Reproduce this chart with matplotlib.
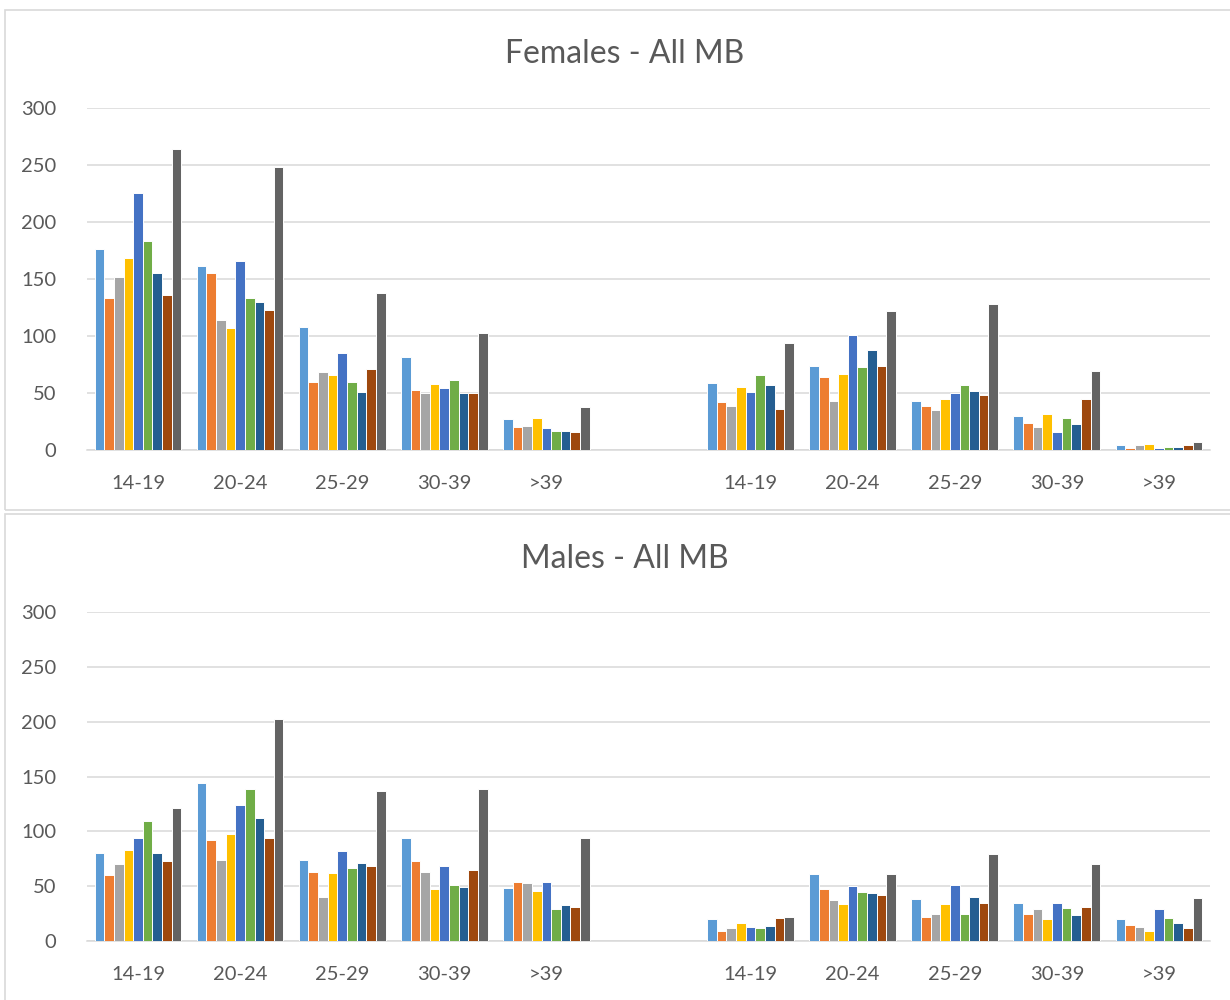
import numpy as np
import matplotlib.pyplot as plt
from matplotlib.patches import Rectangle

plt.rcParams['font.family'] = ['Lato', 'DejaVu Sans']

# age groups, two blocks of five with an empty slot between them
categories = ["14-19", "20-24", "25-29", "30-39", ">39", "",
              "14-19", "20-24", "25-29", "30-39", ">39"]

# one row per category, nine series per row (None = empty slot)
females = [
    [176, 133, 152, 168, 225, 183, 155, 136, 264],
    [161, 155, 114, 107, 166, 133, 130, 123, 248],
    [108, 60, 68, 66, 85, 60, 51, 71, 138],
    [82, 53, 50, 58, 54, 61, 50, 50, 103],
    [27, 20, 21, 28, 19, 17, 17, 16, 38],
    None,
    [59, 42, 39, 55, 51, 66, 57, 36, 94],
    [74, 64, 43, 67, 101, 73, 88, 74, 122],
    [43, 39, 35, 45, 50, 57, 52, 48, 128],
    [30, 24, 20, 32, 16, 28, 23, 45, 69],
    [4, 2, 4, 5, 2, 3, 3, 4, 7],
]

males = [
    [80, 60, 70, 83, 94, 109, 80, 73, 121],
    [144, 92, 74, 98, 124, 139, 112, 94, 202],
    [74, 63, 40, 62, 82, 67, 71, 68, 137],
    [94, 73, 63, 47, 68, 51, 49, 65, 139],
    [48, 54, 53, 46, 54, 29, 33, 31, 94],
    None,
    [20, 9, 12, 16, 13, 12, 14, 21, 22],
    [61, 47, 37, 34, 50, 45, 44, 42, 61],
    [38, 22, 25, 34, 51, 25, 40, 35, 79],
    [35, 25, 29, 20, 35, 30, 24, 31, 70],
    [20, 15, 13, 9, 29, 21, 16, 12, 39],
]

colors = ['#5B9BD5', '#ED7D31', '#A5A5A5', '#FFC000', '#4472C4',
          '#70AD47', '#255E91', '#9E480E', '#636363']

fig = plt.figure(figsize=(12.3, 10), dpi=100)

# light frames around each chart
fig.patches.append(Rectangle((0.004, 0.490), 1.2, 0.500, transform=fig.transFigure,
                             fill=False, edgecolor='#D9D9D9', linewidth=1.2))
fig.patches.append(Rectangle((0.004, -0.1), 1.2, 0.586, transform=fig.transFigure,
                             fill=False, edgecolor='#D9D9D9', linewidth=1.2))


def draw_panel(ax, rows, title, title_y):
    n_series = len(colors)
    group_w = 0.85
    step = group_w / n_series
    x = np.arange(len(categories))
    for s in range(n_series):
        vals = np.array([np.nan if r is None else r[s] for r in rows], dtype=float)
        offs = -group_w / 2 + step * (s + 0.5)
        ax.bar(x + offs, vals, width=step, color=colors[s],
               edgecolor='white', linewidth=0.7, zorder=3)
    ax.set_xlim(-0.5, len(categories) - 0.5)
    ax.set_ylim(0, 300)
    ax.set_yticks(range(0, 301, 50))
    ax.set_xticks(x)
    ax.set_xticklabels(categories)
    ax.grid(axis='y', color='#D9D9D9', linewidth=1.1, zorder=0)
    for sp in ['top', 'right', 'left']:
        ax.spines[sp].set_visible(False)
    ax.spines['bottom'].set_color('#D9D9D9')
    ax.spines['bottom'].set_linewidth(1.1)
    ax.tick_params(axis='both', length=0, labelsize=14.5, colors='#595959')
    ax.tick_params(axis='x', pad=18)
    ax.tick_params(axis='y', pad=22)
    fig.text(0.508, title_y, title, ha='center', va='center',
             fontsize=23, color='#595959')


ax1 = fig.add_axes([0.0707, 0.550, 0.913, 0.342])
draw_panel(ax1, females, "Females - All MB", 0.946)

ax2 = fig.add_axes([0.0707, 0.059, 0.913, 0.329])
draw_panel(ax2, males, "Males - All MB", 0.441)

fig.savefig("out.png", dpi=100)
